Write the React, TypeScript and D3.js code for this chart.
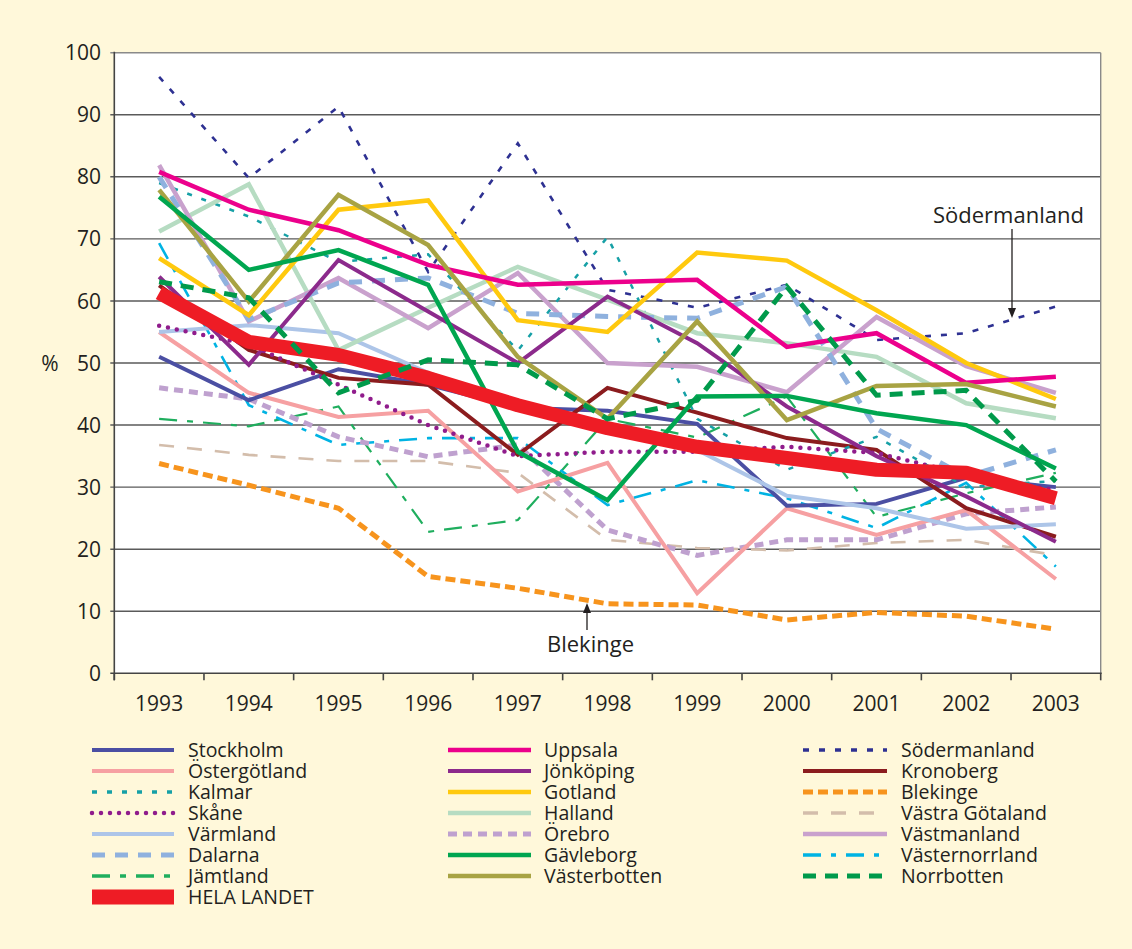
import React, { useEffect, useRef } from 'react';
import * as d3 from 'd3';

const years = ['1993', '1994', '1995', '1996', '1997', '1998', '1999', '2000', '2001', '2002', '2003'];
const yTicks = [0, 10, 20, 30, 40, 50, 60, 70, 80, 90, 100];

const stockholm = [51, 44, 49, 46.5, 42.8, 42.3, 40.2, 27, 27.3, 31.5, 30];
const ostergotland = [55, 45.2, 41.3, 42.3, 29.3, 33.9, 12.9, 26.6, 22.3, 26.3, 15.2];
const kalmar = [79, 73.6, 66.3, 67.5, 52, 70.3, 41, 32.8, 38.1, 30, 31];
const skane = [56, 53, 46.5, 40, 35, 35.7, 35.7, 36.5, 35.5, 32, 29.5];
const varmland = [55, 56.1, 54.8, 48.4, 43.5, 39.5, 36, 28.6, 26.6, 23.3, 24];
const dalarna = [80, 57, 62.9, 63.7, 58, 57.5, 57.2, 62.3, 39.4, 31.7, 36];
const jamtland = [41, 39.8, 43, 22.8, 24.7, 41, 38, 44.6, 25.2, 29, 32.3];
const helaLandet = [61.3, 53.4, 51.3, 47.6, 43.2, 39.5, 36.5, 34.7, 32.8, 32.3, 28.2];
const uppsala = [80.8, 74.7, 71.4, 65.8, 62.6, 63, 63.4, 52.6, 54.8, 46.8, 47.8];
const jonkoping = [63.9, 49.7, 66.6, 58.3, 50, 60.7, 53.2, 43, 35, 28.5, 21.2];
const gotland = [66.9, 57.7, 74.7, 76.2, 56.9, 55, 67.8, 66.5, 58.5, 50, 44.2];
const halland = [71.2, 78.8, 52.1, 58.9, 65.5, 60.2, 54.8, 53.2, 51, 43.5, 41.1];
const orebro = [46, 44.2, 38.1, 34.9, 36.8, 23.1, 19, 21.5, 21.5, 25.7, 26.8];
const gavleborg = [76.8, 65, 68.2, 62.6, 35.7, 27.9, 44.6, 44.7, 41.9, 40, 33];
const vasterbotten = [77.9, 59.9, 77.1, 69, 51, 41, 56.7, 40.8, 46.3, 46.6, 43];
const sodermanland = [96.1, 79.8, 91.3, 64.7, 85.4, 61.8, 58.9, 62.6, 53.7, 54.8, 59.1];
const kronoberg = [62.5, 52.1, 47.6, 46.5, 35.2, 46, 42, 37.9, 36, 26.6, 22];
const blekinge = [33.8, 30.3, 26.6, 15.6, 13.7, 11.2, 11, 8.6, 9.8, 9.2, 7.1];
const vastraGotaland = [36.8, 35.2, 34.2, 34.2, 32.3, 21.5, 20.2, 19.8, 21, 21.5, 19];
const vastmanland = [81.9, 56.7, 63.7, 55.6, 64.5, 50, 49.4, 45.3, 57.4, 49.5, 45.2];
const vasternorrland = [69.3, 43.2, 36.8, 37.9, 37.9, 27.1, 31.1, 28.2, 23.4, 30.7, 17.2];
const norrbotten = [63.1, 60.5, 45.2, 50.5, 49.7, 41, 44, 62.3, 44.8, 45.6, 30.9];

// legend columns, top to bottom
const col1 = ['Stockholm', 'Östergötland', 'Kalmar', 'Skåne', 'Värmland', 'Dalarna', 'Jämtland', 'HELA LANDET'];
const col2 = ['Uppsala', 'Jönköping', 'Gotland', 'Halland', 'Örebro', 'Gävleborg', 'Västerbotten'];
const col3 = ['Södermanland', 'Kronoberg', 'Blekinge', 'Västra Götaland', 'Västmanland', 'Västernorrland', 'Norrbotten'];

const values = {
  'Stockholm': stockholm, 'Östergötland': ostergotland, 'Kalmar': kalmar, 'Skåne': skane,
  'Värmland': varmland, 'Dalarna': dalarna, 'Jämtland': jamtland, 'HELA LANDET': helaLandet,
  'Uppsala': uppsala, 'Jönköping': jonkoping, 'Gotland': gotland, 'Halland': halland,
  'Örebro': orebro, 'Gävleborg': gavleborg, 'Västerbotten': vasterbotten,
  'Södermanland': sodermanland, 'Kronoberg': kronoberg, 'Blekinge': blekinge,
  'Västra Götaland': vastraGotaland, 'Västmanland': vastmanland, 'Västernorrland': vasternorrland,
  'Norrbotten': norrbotten,
};

// color, width, dasharray, linecap
const styles = {
  'Stockholm': ['#4b4fa3', 4, null, 'butt'],
  'Östergötland': ['#f6a0a2', 4, null, 'butt'],
  'Kalmar': ['#16a0a6', 2.5, '5,10', 'butt'],
  'Skåne': ['#901c8c', 4.5, '0,9', 'round'],
  'Värmland': ['#adc5e8', 4, null, 'butt'],
  'Dalarna': ['#8fb1de', 5, '13,10', 'butt'],
  'Jämtland': ['#1fae5e', 2.2, '18,10,6,10', 'butt'],
  'HELA LANDET': ['#ee1c25', 14, null, 'butt'],
  'Uppsala': ['#ec008c', 4.5, null, 'butt'],
  'Jönköping': ['#8c2a8c', 4, null, 'butt'],
  'Gotland': ['#ffc90e', 4.5, null, 'butt'],
  'Halland': ['#b6dcc2', 4.5, null, 'butt'],
  'Örebro': ['#bfa1cf', 5, '9,6', 'butt'],
  'Gävleborg': ['#00a650', 4.5, null, 'butt'],
  'Västerbotten': ['#a8a343', 4.5, null, 'butt'],
  'Södermanland': ['#2e3192', 2.6, '6,10', 'butt'],
  'Kronoberg': ['#8b1c1e', 4, null, 'butt'],
  'Blekinge': ['#f7941d', 5, '10,5', 'butt'],
  'Västra Götaland': ['#d3bdab', 2.6, '15,13', 'butt'],
  'Västmanland': ['#c9a1cd', 4.5, null, 'butt'],
  'Västernorrland': ['#00b3e3', 2.6, '18,10,5,10', 'butt'],
  'Norrbotten': ['#009a4b', 5, '13,9', 'butt'],
};

const drawOrder = [
  'Västra Götaland', 'Blekinge', 'Jämtland', 'Västernorrland', 'Örebro', 'Östergötland',
  'Stockholm', 'Kronoberg', 'Värmland', 'Skåne', 'Kalmar', 'Södermanland', 'Halland',
  'Västmanland', 'Dalarna', 'Jönköping', 'Gotland', 'Uppsala', 'Västerbotten', 'Gävleborg',
  'HELA LANDET', 'Norrbotten',
];

const FONT = '"Open Sans", "Noto Sans", sans-serif';

const App = () => {
  const ref = useRef(null);

  useEffect(() => {
    if (!ref.current) return;
    const width = 1132;
    const height = 949;
    const svg = d3.select(ref.current);
    svg.selectAll('*').remove();
    svg.attr('width', width).attr('height', height);

    svg.append('rect').attr('width', width).attr('height', height).attr('fill', '#fff8da');

    const left = 114.3, right = 1100.7, top = 52.7, bottom = 673.3;
    const x = d3.scaleBand().domain(years).range([left, right]).padding(0);
    const y = d3.scaleLinear().domain([0, 100]).range([bottom, top]);
    const cx = (yr) => x(yr) + x.bandwidth() / 2;

    svg.append('rect')
      .attr('x', left).attr('y', top)
      .attr('width', right - left).attr('height', bottom - top)
      .attr('fill', '#ffffff');

    // grid
    svg.append('g').selectAll('line')
      .data(yTicks.filter(d => d > 0))
      .enter().append('line')
        .attr('x1', left - 4).attr('x2', right)
        .attr('y1', d => y(d)).attr('y2', d => y(d))
        .attr('stroke', d => (d === 100 ? '#8a8a8a' : '#5a5a5a'))
        .attr('stroke-width', 1.4);

    svg.append('line')
      .attr('x1', right).attr('x2', right).attr('y1', top).attr('y2', bottom)
      .attr('stroke', '#8a8a8a').attr('stroke-width', 1.4);

    // axes
    svg.append('line')
      .attr('x1', left).attr('x2', left).attr('y1', top - 1).attr('y2', bottom + 7)
      .attr('stroke', '#444').attr('stroke-width', 1.6);
    svg.append('line')
      .attr('x1', left - 4).attr('x2', right + 1).attr('y1', bottom).attr('y2', bottom)
      .attr('stroke', '#444').attr('stroke-width', 1.6);

    const edges = years.map(d => x(d)).concat([right]);
    svg.append('g').selectAll('line')
      .data(edges)
      .enter().append('line')
        .attr('x1', d => d).attr('x2', d => d)
        .attr('y1', bottom).attr('y2', bottom + 7)
        .attr('stroke', '#444').attr('stroke-width', 1.6);

    svg.append('g').selectAll('text')
      .data(yTicks)
      .enter().append('text')
        .attr('x', 101).attr('y', d => y(d))
        .attr('dy', '0.36em')
        .attr('text-anchor', 'end')
        .attr('font-family', FONT).attr('font-size', 21)
        .attr('fill', '#231f20')
        .text(d => d);

    svg.append('text')
      .attr('x', 50).attr('y', y(50)).attr('dy', '0.36em')
      .attr('text-anchor', 'middle')
      .attr('font-family', FONT).attr('font-size', 21).attr('fill', '#231f20')
      .text('%');

    svg.append('g').selectAll('text')
      .data(years)
      .enter().append('text')
        .attr('x', d => cx(d)).attr('y', 711)
        .attr('text-anchor', 'middle')
        .attr('font-family', FONT).attr('font-size', 21)
        .attr('fill', '#231f20')
        .text(d => d);

    // series
    const line = d3.line()
      .x((d, i) => cx(years[i]))
      .y(d => y(d));

    const plot = svg.append('g');
    drawOrder.forEach(name => {
      const [color, w, dash, cap] = styles[name];
      plot.append('path')
        .attr('d', line(values[name]))
        .attr('fill', 'none')
        .attr('stroke', color)
        .attr('stroke-width', w)
        .attr('stroke-linejoin', name === 'HELA LANDET' ? 'bevel' : 'miter')
        .attr('stroke-linecap', cap)
        .attr('stroke-dasharray', dash);
    });

    // annotations
    const ink = '#231f20';
    svg.append('text')
      .attr('x', 933).attr('y', 223)
      .attr('font-family', FONT).attr('font-size', 22).attr('fill', ink)
      .text('Södermanland');
    svg.append('line')
      .attr('x1', 1012).attr('x2', 1012).attr('y1', 229).attr('y2', 310)
      .attr('stroke', ink).attr('stroke-width', 1.3);
    svg.append('path')
      .attr('d', 'M1008,308 L1016,308 L1012,318 Z').attr('fill', ink);

    svg.append('text')
      .attr('x', 547).attr('y', 652)
      .attr('font-family', FONT).attr('font-size', 22).attr('fill', ink)
      .text('Blekinge');
    svg.append('line')
      .attr('x1', 587).attr('x2', 587).attr('y1', 630).attr('y2', 611)
      .attr('stroke', ink).attr('stroke-width', 1.3);
    svg.append('path')
      .attr('d', 'M583,613 L591,613 L587,603 Z').attr('fill', ink);

    // legend
    const columns = [
      { names: col1, x0: 92, x1: 174, tx: 188 },
      { names: col2, x0: 448, x1: 531, tx: 544 },
      { names: col3, x0: 803, x1: 887, tx: 901 },
    ];
    const rowY = (i) => 750 + i * 21;
    columns.forEach(col => {
      const g = svg.append('g').selectAll('g')
        .data(col.names)
        .enter().append('g')
          .attr('transform', (d, i) => `translate(0, ${rowY(i)})`);
      g.append('line')
        .attr('x1', col.x0).attr('x2', col.x1)
        .attr('y1', 0).attr('y2', 0)
        .attr('stroke', d => styles[d][0])
        .attr('stroke-width', d => (d === 'HELA LANDET' ? 15 : Math.max(styles[d][1], 3.5)))
        .attr('stroke-dasharray', d => styles[d][2])
        .attr('stroke-linecap', d => styles[d][3]);
      g.append('text')
        .attr('x', col.tx).attr('y', 0).attr('dy', '0.35em')
        .attr('font-family', FONT).attr('font-size', 19.5).attr('fill', ink)
        .text(d => d);
    });
  }, []);

  return (
    <svg
      ref={ref}
      style={{ position: 'absolute', left: 0, top: 0, display: 'block' }}
    />
  );
};

export default App;
